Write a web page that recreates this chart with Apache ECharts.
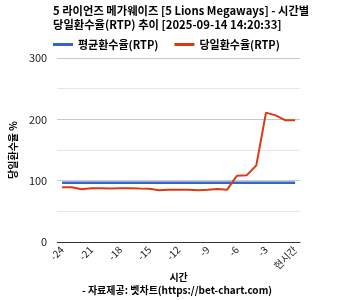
<!DOCTYPE html>
<html><head><meta charset="utf-8">
<script src="https://cdn.jsdelivr.net/npm/echarts@6/dist/echarts.min.js"></script>
<style>html,body{margin:0;padding:0;background:#fff}#c{width:354px;height:300px}</style>
</head><body><div id="c"></div>
<script>
const categories = ['-24','-23','-22','-21','-20','-19','-18','-17','-16','-15','-14','-13','-12','-11','-10','-9','-8','-7','-6','-5','-4','-3','-2','-1','현시간'];
const avgRtp = [96.5,96.5,96.5,96.5,96.5,96.5,96.5,96.5,96.5,96.5,96.5,96.5,96.5,96.5,96.5,96.5,96.5,96.5,96.5,96.5,96.5,96.5,96.5,96.5,96.5];
const dayRtp = [89.2,89.2,86.0,87.5,87.5,87.2,87.5,87.5,87.2,87.0,84.3,85.3,85.3,85.3,84.3,85.3,86.4,85.3,108.0,108.7,125.0,210.9,206.5,198.4,198.4];
const titleText = '5 라이언즈 메가웨이즈 [5 Lions Megaways] - 시간별\n당일환수율(RTP) 추이 [2025-09-14 14:20:33]';
const seriesNames = ['평균환수율(RTP)','당일환수율(RTP)'];
const font = '"Noto Sans CJK KR", "Noto Sans", sans-serif';
const chart = echarts.init(document.getElementById('c'), null, {renderer:'canvas'});
chart.setOption({
  animation:false,
  title:[{text:titleText,left:53,top:4,padding:0,textStyle:{fontFamily:font,fontSize:11.3,fontWeight:'bold',color:'#000',lineHeight:14}},
         {text:'- 자료제공: 벳차트(https://bet-chart.com)',left:'center',top:285,padding:0,textStyle:{fontFamily:font,fontSize:10,fontWeight:'bold',color:'#000'}}],
  legend:{left:53,top:39,padding:0,itemWidth:20,itemHeight:3,itemGap:16,icon:'rect',
    textStyle:{fontFamily:font,fontSize:11,fontWeight:'bold',color:'#000'},data:seriesNames},
  grid:{left:53,right:54,top:58,bottom:58,containLabel:false},
  xAxis:{type:'category',data:categories,boundaryGap:true,name:'시간',nameLocation:'middle',nameGap:30,nameMoveOverlap:false,
    nameTextStyle:{fontFamily:font,fontSize:10,fontWeight:'bold',color:'#000'},
    axisLine:{lineStyle:{color:'#333',width:1}},axisTick:{show:false},
    axisLabel:{interval:2,rotate:45,fontFamily:font,fontSize:10,color:'#222',margin:6}},
  yAxis:{type:'value',min:0,max:300,interval:50,name:'당일환수율 %',nameLocation:'middle',nameGap:38,
    nameTextStyle:{fontFamily:font,fontSize:10,fontWeight:'bold',color:'#000'},
    axisLine:{show:false},axisTick:{show:false},
    axisLabel:{fontFamily:font,fontSize:11,color:'#222',margin:10,formatter:v=>v%100===0?String(v):''},
    splitLine:{lineStyle:{color:['#c8c8c8','#e6e6e6'],width:1}}},
  series:[
    {name:seriesNames[0],type:'line',data:avgRtp,symbol:'none',lineStyle:{color:'#3366cc',width:2.5},itemStyle:{color:'#3366cc'}},
    {name:seriesNames[1],type:'line',data:dayRtp,symbol:'none',lineStyle:{color:'#dc3912',width:2},itemStyle:{color:'#dc3912'}}
  ]
});
</script></body></html>
